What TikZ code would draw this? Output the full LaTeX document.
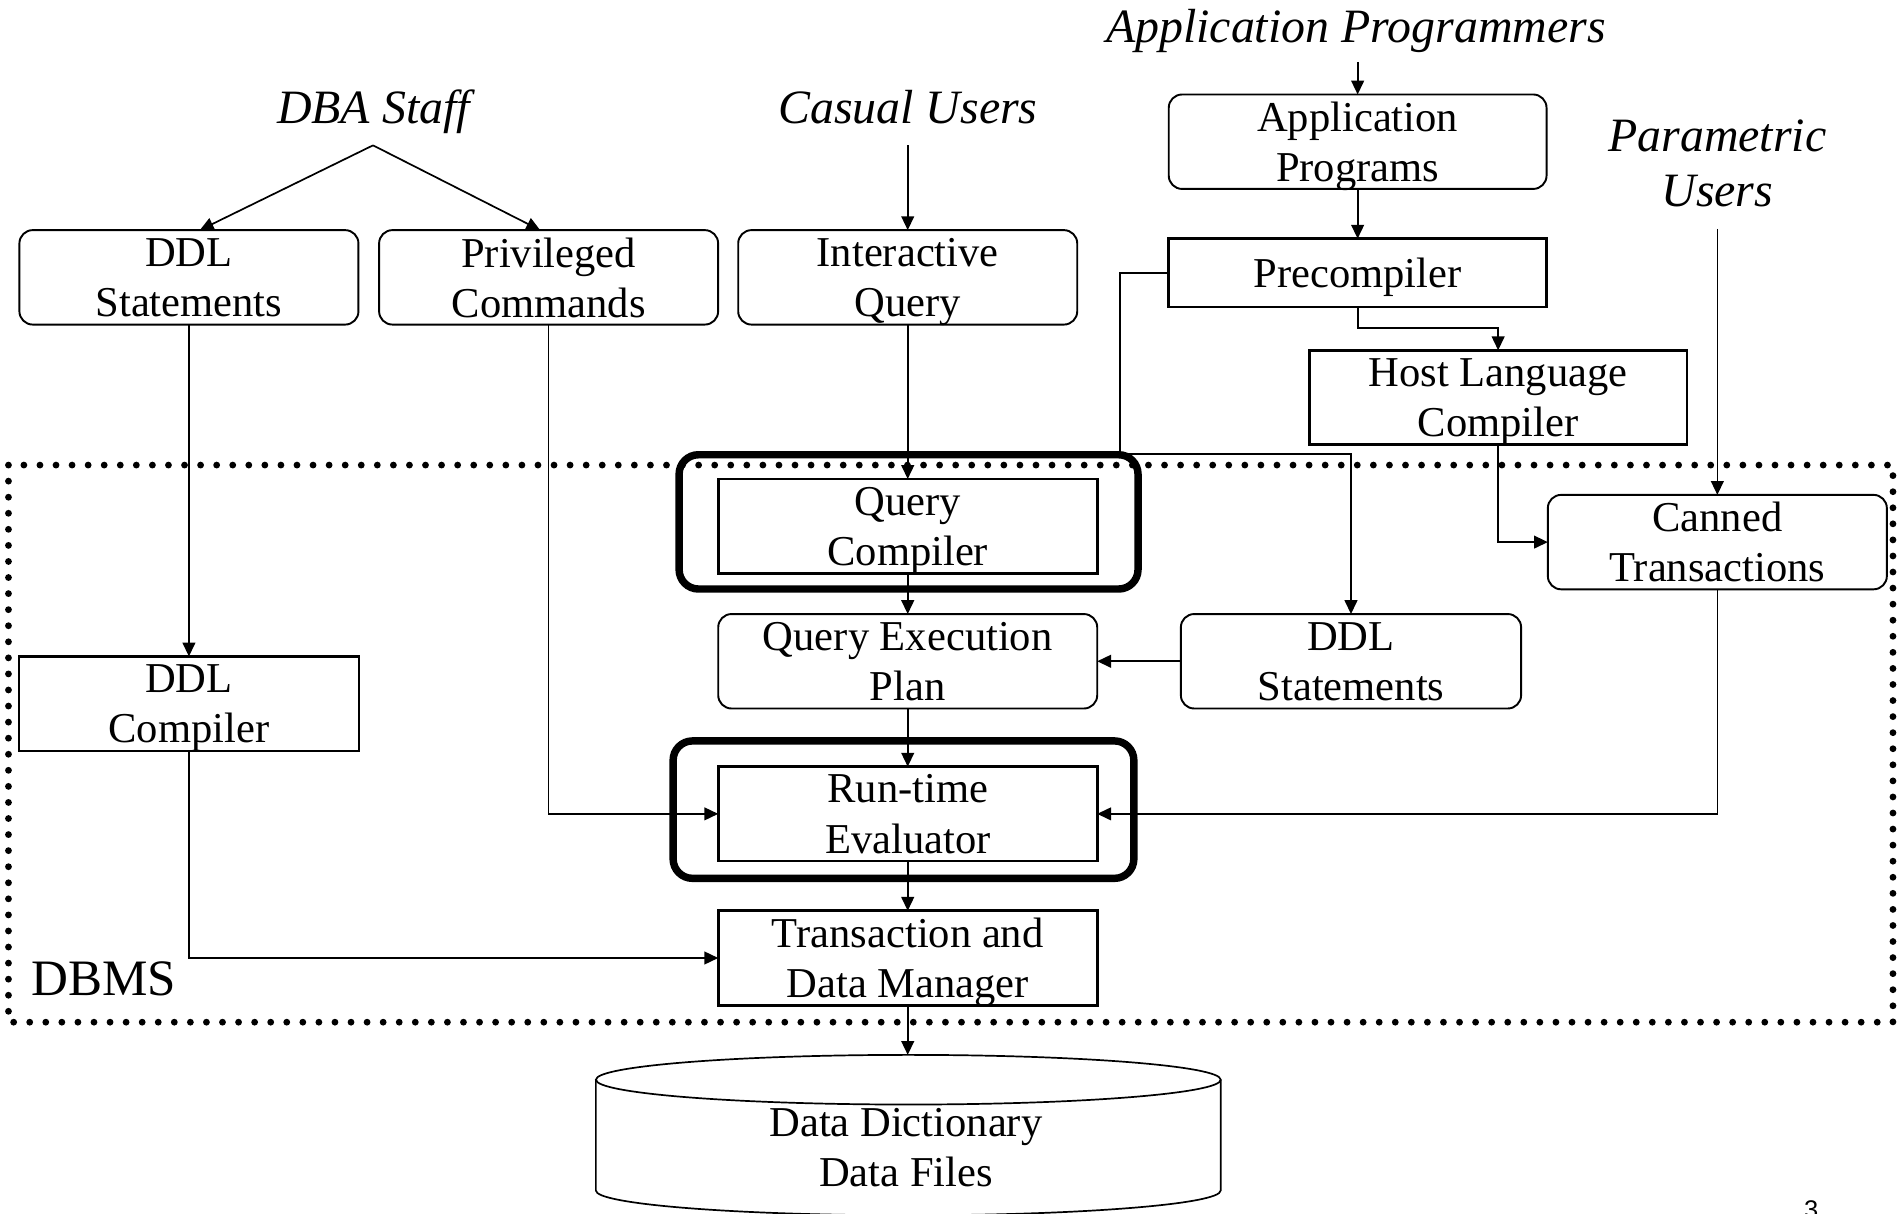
\documentclass[tikz,border=0pt]{standalone}
\usepackage{fontspec}
\setmainfont{Liberation Serif}
\newfontfamily\pagenumfont{Liberation Sans}
\usetikzlibrary{arrows.meta,calc}

\begin{document}
\begin{tikzpicture}[x=0.02cm,y=-0.02cm,
  every node/.style={inner sep=0pt, outer sep=0pt},
  lbl/.style={font=\fontsize{20}{23.6}\selectfont, align=center, text depth=0pt},
  rbox/.style={lbl, draw, rounded corners=0.22cm, line width=0.9pt, minimum width=#1, minimum height=1.56cm},
  sbox/.style={lbl, draw, line width=1.2pt, minimum width=#1, minimum height=1.56cm},
  frame/.style={draw, line width=3.5pt, rounded corners=0.32cm},
  who/.style={font=\fontsize{22.5}{26}\selectfont\itshape, align=center, text depth=0pt},
  conn/.style={line width=0.8pt},
  arr/.style={conn, -{Triangle[length=6.5pt,width=6pt]}},
  dbmsline/.style={draw, line width=3.2pt, line cap=round, dash pattern=on 0pt off 7.55pt},
]
\useasboundingbox (0,0) rectangle (1568,1002);

% DBMS boundary
\draw[dbmsline] (7,384) rectangle (1563,844);
\node[font=\fontsize{24}{28}\selectfont, anchor=base west] (dbmslabel) at (26,822.2) {DBMS};

% user groups
\node[who, anchor=south] (dba) at (308.4,101.8) {DBA Staff};
\node[who, anchor=south] (casual) at (749.6,101.8) {Casual Users};
\node[who, anchor=south] (appprog) at (1119.5,34.8) {Application Programmers};
\node[who, anchor=south] (param) at (1418,170.6) {Parametric\\Users};

\coordinate (dbafork) at (308,120);
\coordinate (casualfoot) at (749.5,120);
\coordinate (appfoot) at (1121,51);
\coordinate (paramfoot) at (1418,189);

% front-end boxes
\node[rbox=5.6cm] (ddls) at (156,229) {DDL\\Statements};
\node[rbox=5.6cm] (priv) at (453,229) {Privileged\\Commands};
\node[rbox=5.6cm] (iq) at (749.5,229) {Interactive\\Query};
\node[rbox=6.24cm] (apps) at (1121,117) {Application\\Programs};
\node[sbox=6.24cm, minimum height=1.13cm] (prec) at (1121,225.3) {Precompiler};
\node[sbox=6.24cm] (host) at (1237,328.2) {Host Language\\Compiler};
\node[rbox=5.6cm] (canned) at (1418,447.6) {Canned\\Transactions};

% DBMS internals
\node[sbox=6.26cm] (qc) at (749.5,434.5) {Query\\Compiler};
\node[frame, minimum width=7.58cm, minimum height=2.218cm] (qcframe) at (750.2,430.9) {};
\node[rbox=6.26cm] (qep) at (749.5,546) {Query Execution\\Plan};
\node[rbox=5.62cm] (ddl2) at (1115.5,546) {DDL\\Statements};
\node[sbox=5.62cm] (ddlc) at (156,581) {DDL\\Compiler};
\node[sbox=6.26cm] (rte) at (749.5,672) {Run-time\\Evaluator};
\node[frame, minimum width=7.61cm, minimum height=2.27cm] (rteframe) at (746,668.5) {};
\node[sbox=6.26cm] (tdm) at (749.5,791) {Transaction and\\Data Manager};

% stored data
\coordinate (storetop) at (749.5,871);
\draw[conn] (750,891.5) ellipse [x radius=5.16cm, y radius=0.41cm];
\draw[conn] (492,891.5) -- (492,983) arc [start angle=180, end angle=360, x radius=5.16cm, y radius=0.41cm] -- (1008,891.5);
\node[lbl, anchor=south] (store) at (748,979.7) {Data Dictionary\\Data Files};

\node[font=\pagenumfont\fontsize{12}{14}\selectfont, anchor=north] (pageno) at (1495.5,991) {3};

% connectors
\draw[arr] (appfoot) -- (apps.north);
\draw[arr] (apps.south) -- (prec.north);
\draw[arr] (dbafork) -- ($(ddls.north)+(9,0)$);
\draw[arr] (dbafork) -- ($(priv.north)+(-7,0)$);
\draw[arr] (casualfoot) -- (iq.north);
\draw[arr] (paramfoot) -- (canned.north);
\draw[arr] (prec.south) -- ($(prec.south)+(0,17.5)$) -| (host.north);
\draw[arr] (host.south) |- (canned.west);
\coordinate (precbend) at (925,375);
\draw[arr] (prec.west) -| (precbend) -| (ddl2.north);
\draw[arr] (ddls.south) -- (ddlc.north);
\draw[arr] (priv.south) |- (rte.west);
\draw[arr] (iq.south) -- (qc.north);
\draw[arr] (qc.south) -- (qep.north);
\draw[arr] (ddl2.west) -- (qep.east);
\draw[arr] (qep.south) -- (rte.north);
\draw[arr] (canned.south) |- (rte.east);
\draw[arr] (rte.south) -- (tdm.north);
\draw[arr] (ddlc.south) |- (tdm.west);
\draw[arr] (tdm.south) -- (storetop);
\end{tikzpicture}
\end{document}
